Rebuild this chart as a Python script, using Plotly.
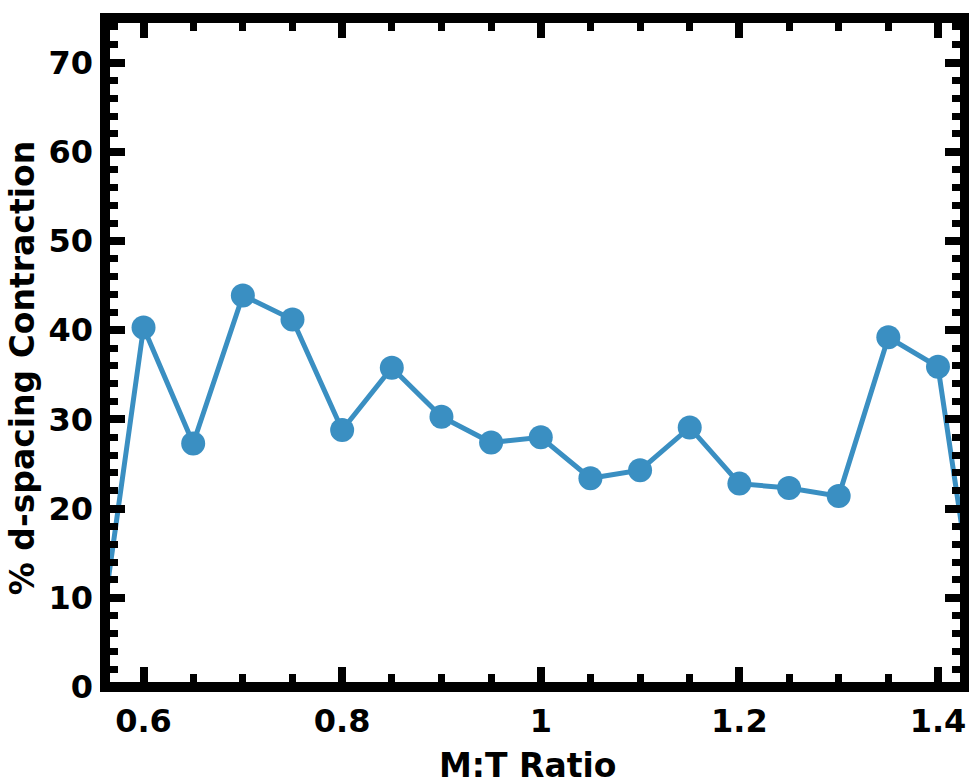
import plotly.graph_objects as go

# M:T ratio and the measured d-spacing contraction (%)
ratio = [0.55, 0.60, 0.65, 0.70, 0.75, 0.80, 0.85, 0.90, 0.95, 1.00,
         1.05, 1.10, 1.15, 1.20, 1.25, 1.30, 1.35, 1.40, 1.45]
contraction = [0.5, 40.3, 27.3, 43.9, 41.2, 28.8, 35.8, 30.3, 27.4, 28.0,
               23.4, 24.3, 29.1, 22.8, 22.3, 21.4, 39.2, 35.9, -1.5]

x_ticks = [0.6, 0.8, 1.0, 1.2, 1.4]
x_ticklabels = ["0.6", "0.8", "1", "1.2", "1.4"]
y_ticks = [0, 10, 20, 30, 40, 50, 60, 70]

x_title = "M:T Ratio"
y_title = "% d-spacing Contraction"

blue = "#3a8fc2"
font_family = "DejaVu Sans, Liberation Sans, sans-serif"

fig = go.Figure()
fig.add_trace(go.Scatter(
    x=ratio, y=contraction, mode="lines+markers",
    line=dict(color=blue, width=5),
    marker=dict(color=blue, size=24, symbol="circle"),
    showlegend=False,
))

tick_font = dict(family=font_family, size=32, color="black", weight="bold")

fig.update_xaxes(
    range=[0.5612, 1.4272], showgrid=False, zeroline=False, showline=False,
    tickmode="array", tickvals=x_ticks, ticktext=x_ticklabels,
    ticks="inside", ticklen=20, tickwidth=8, tickcolor="black",
    mirror="allticks", tickfont=tick_font, ticklabelstandoff=12,
    minor=dict(dtick=0.05, ticks="inside", ticklen=13, tickwidth=7,
               tickcolor="black", showgrid=False),
)
fig.update_yaxes(
    range=[0, 75], showgrid=False, zeroline=False, showline=False,
    tickmode="array", tickvals=y_ticks,
    ticks="inside", ticklen=20, tickwidth=8, tickcolor="black",
    mirror="allticks", tickfont=tick_font, ticklabelstandoff=11,
    minor=dict(dtick=2, tick0=0, ticks="inside", ticklen=13, tickwidth=7,
               tickcolor="black", showgrid=False),
)

# axis titles placed as annotations relative to the plot area
fig.add_annotation(text=x_title, xref="paper", yref="paper",
                   x=0.4913, y=-0.117, xanchor="center", yanchor="middle",
                   showarrow=False,
                   font=dict(family=font_family, size=33, color="black", weight="bold"))
fig.add_annotation(text=y_title, xref="paper", yref="paper",
                   x=-0.0965, y=0.4765, xanchor="center", yanchor="middle",
                   textangle=-90, showarrow=False,
                   font=dict(family=font_family, size=33, color="black", weight="bold"))

# heavy frame centred on the plot-area edges
fig.add_shape(type="rect", xref="paper", yref="paper", x0=0, y0=0, x1=1, y1=1,
              line=dict(color="black", width=10), layer="above")

fig.update_layout(
    width=969, height=784,
    margin=dict(l=105, r=4, t=18, b=97),
    paper_bgcolor="white", plot_bgcolor="white",
)

fig.write_html("out.html")
